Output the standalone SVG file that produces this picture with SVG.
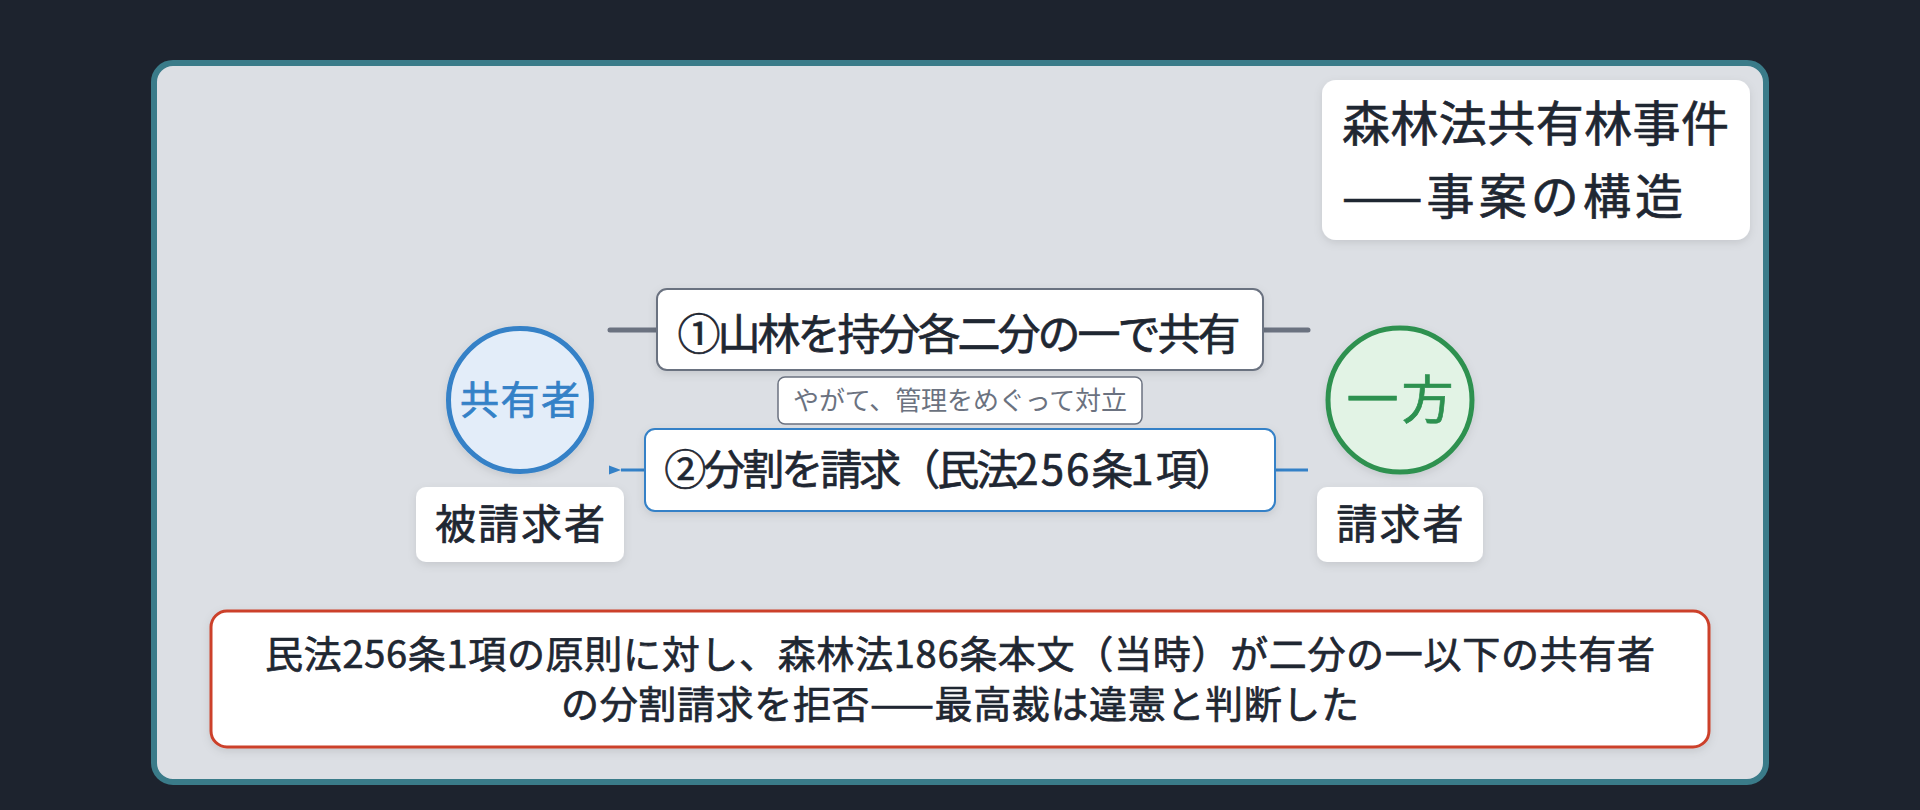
<svg xmlns="http://www.w3.org/2000/svg" width="1920" height="810" viewBox="0 0 1920 810">
  <defs>
    <style>
      .t { font-family: "Noto Sans CJK JP", "Noto Sans", "Liberation Sans", sans-serif; fill: #1f2732; stroke: #1f2732; stroke-width: 0.7px; font-weight: 400; }
      .c { text-anchor: middle; }
      .blue { fill: #3481c7; stroke: #3481c7; }
      .green { fill: #2d9150; stroke: #2d9150; }
      .gray { fill: #6b7280; stroke: none; }
      .card { fill: #ffffff; filter: url(#sh); }
    </style>
    <filter id="sh" x="-10%" y="-20%" width="120%" height="150%">
      <feDropShadow dx="0" dy="3" stdDeviation="4" flood-color="#000000" flood-opacity="0.10"/>
    </filter>
    <marker id="arrBlue" markerWidth="14" markerHeight="12" refX="1" refY="6" orient="auto" markerUnits="userSpaceOnUse">
      <path d="M13,1.5 L1,6 L13,10.5 Z" fill="#3481c7"/>
    </marker>
  </defs>

  <rect x="0" y="0" width="1920" height="810" fill="#1d232e"/>
  <rect id="frame" x="154" y="63" width="1612" height="719" rx="19" fill="#dcdfe4" stroke="#3a7b89" stroke-width="6"/>

  <g id="title">
    <rect class="card" x="1322" y="80" width="428" height="160" rx="14" fill="#fdfdfe"/>
    <text class="t" x="1342" y="141" font-size="48" textLength="387">森林法共有林事件</text>
    <text class="t" x="1342" y="214" font-size="48" textLength="341">——事案の構造</text>
  </g>

  <g id="connectors">
    <line x1="610" y1="330" x2="1308" y2="330" stroke="#6b7280" stroke-width="5" stroke-linecap="round"/>
    <line x1="1308" y1="470" x2="621" y2="470" stroke="#3481c7" stroke-width="3" marker-end="url(#arrBlue)"/>
  </g>

  <g id="node-kyoyusha">
    <circle cx="520" cy="400" r="71.5" fill="#e3edf9" stroke="#3481c7" stroke-width="5" filter="url(#sh)"/>
    <text class="t c blue" x="520" y="414" font-size="39" textLength="120">共有者</text>
  </g>

  <g id="node-ippo">
    <circle cx="1400" cy="400" r="72" fill="#e2f3e5" stroke="#2d9150" stroke-width="5" filter="url(#sh)"/>
    <text class="t c green" x="1400" y="419" font-size="52" textLength="107">一方</text>
  </g>

  <g id="label-hiseikyusha">
    <rect class="card" x="416" y="487" width="208" height="75" rx="10"/>
    <text class="t c" x="520" y="539" font-size="41" textLength="170">被請求者</text>
  </g>

  <g id="label-seikyusha">
    <rect class="card" x="1317" y="487" width="166" height="75" rx="10"/>
    <text class="t c" x="1400" y="539" font-size="41" textLength="127">請求者</text>
  </g>

  <g id="edge-label-1">
    <rect class="card" x="657" y="289" width="606" height="81" rx="10" stroke="#6b7280" stroke-width="2"/>
    <text class="t c" x="959" y="350" font-size="43" textLength="563">①山林を持分各二分の一で共有</text>
  </g>

  <g id="edge-note">
    <rect x="778" y="377" width="364" height="47" rx="7" fill="#ffffff" stroke="#6b7280" stroke-width="1.5"/>
    <text class="t c gray" x="960" y="410" font-size="26" textLength="334">やがて、管理をめぐって対立</text>
  </g>

  <g id="edge-label-2">
    <rect class="card" x="645" y="429" width="630" height="82" rx="10" stroke="#3481c7" stroke-width="2"/>
    <text class="t c" x="949" y="485" font-size="42" letter-spacing="-3">②分割を請求（民法<tspan letter-spacing="2">256</tspan>条<tspan letter-spacing="2">1</tspan>項）</text>
  </g>

  <g id="conclusion">
    <rect class="card" x="211" y="611" width="1498" height="136" rx="16" stroke="#cc412b" stroke-width="3"/>
    <text class="t c" x="960" y="668" font-size="38" textLength="1390">民法256条1項の原則に対し、森林法186条本文（当時）が二分の一以下の共有者</text>
    <text class="t c" x="960" y="718" font-size="38" textLength="798">の分割請求を拒否——最高裁は違憲と判断した</text>
  </g>
</svg>
